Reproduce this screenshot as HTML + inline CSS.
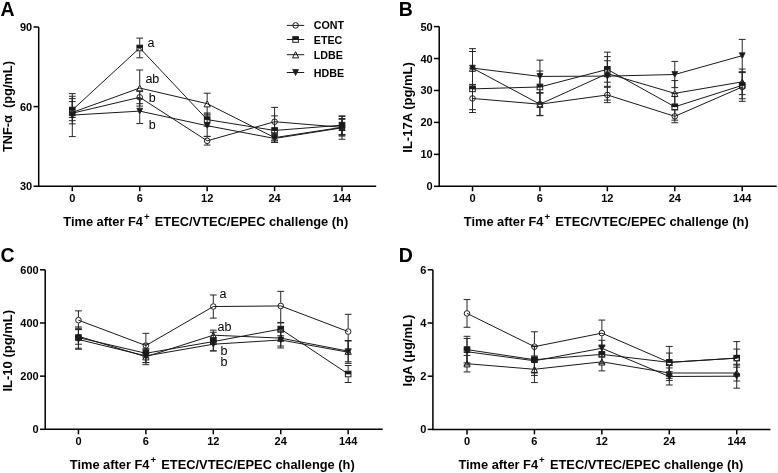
<!DOCTYPE html>
<html><head><meta charset="utf-8"><title>Cytokine time course</title>
<style>
html,body{margin:0;padding:0;background:#fff;}
body{width:778px;height:473px;overflow:hidden;}
svg{display:block;font-family:"Liberation Sans", sans-serif;filter:grayscale(1);}
text{fill:#000;}
</style></head><body>
<svg width="778" height="473" viewBox="0 0 778 473">
<rect width="778" height="473" fill="#fff"/>
<path d="M72.3 98.64V110.03M72.3 116.43V123.85M68.9 98.64H75.7M68.9 123.85H75.7" stroke="#262626" stroke-width="1.0" fill="none"/>
<path d="M139.73 90.95V94.11M139.73 100.51V103.68M136.33 90.95H143.13M136.33 103.68H143.13" stroke="#262626" stroke-width="1.0" fill="none"/>
<path d="M207.16 136.58V137.63M207.16 144.03V145.07M203.76 136.58H210.56M203.76 145.07H210.56" stroke="#262626" stroke-width="1.0" fill="none"/>
<path d="M274.59 107.4V118.52M274.59 124.92V136.05M271.19 107.4H277.99M271.19 136.05H277.99" stroke="#262626" stroke-width="1.0" fill="none"/>
<path d="M342.02 119.34V124.1M342.02 130.5V135.26M338.62 119.34H345.42M338.62 135.26H345.42" stroke="#262626" stroke-width="1.0" fill="none"/>
<path d="M72.3 96.25V106.85M72.3 113.25V120.66M68.9 96.25H75.7M68.9 120.66H75.7" stroke="#262626" stroke-width="1.0" fill="none"/>
<path d="M139.73 38.14V44.76M139.73 51.16V57.78M136.33 38.14H143.13M136.33 57.78H143.13" stroke="#262626" stroke-width="1.0" fill="none"/>
<path d="M207.16 112.97V116.4M207.16 122.8V126.23M203.76 112.97H210.56M203.76 126.23H210.56" stroke="#262626" stroke-width="1.0" fill="none"/>
<path d="M274.59 115.89V127.28M274.59 133.68V142.42M271.19 115.89H277.99M271.19 142.42H277.99" stroke="#262626" stroke-width="1.0" fill="none"/>
<path d="M342.02 115.89V121.97M342.02 128.37V134.46M338.62 115.89H345.42M338.62 134.46H345.42" stroke="#262626" stroke-width="1.0" fill="none"/>
<path d="M72.3 101.56V109.24M72.3 115.64V117.48M68.9 101.56H75.7M68.9 117.48H75.7" stroke="#262626" stroke-width="1.0" fill="none"/>
<path d="M139.73 69.98V84.83M139.73 91.23V106.07M136.33 69.98H143.13M136.33 106.07H143.13" stroke="#262626" stroke-width="1.0" fill="none"/>
<path d="M207.16 93.2V100.48M207.16 106.88V114.16M203.76 93.2H210.56M203.76 114.16H210.56" stroke="#262626" stroke-width="1.0" fill="none"/>
<path d="M274.59 132.87V134.44M274.59 140.84V142.42M271.19 132.87H277.99M271.19 142.42H277.99" stroke="#262626" stroke-width="1.0" fill="none"/>
<path d="M342.02 118.54V124.1M342.02 130.5V136.05M338.62 118.54H345.42M338.62 136.05H345.42" stroke="#262626" stroke-width="1.0" fill="none"/>
<path d="M72.3 93.6V111.89M72.3 118.29V136.58M68.9 93.6H75.7M68.9 136.58H75.7" stroke="#262626" stroke-width="1.0" fill="none"/>
<path d="M139.73 98.64V107.91M139.73 114.31V123.58M136.33 98.64H143.13M136.33 123.58H143.13" stroke="#262626" stroke-width="1.0" fill="none"/>
<path d="M207.16 115.09V122.5M207.16 128.9V136.32M203.76 115.09H210.56M203.76 136.32H210.56" stroke="#262626" stroke-width="1.0" fill="none"/>
<path d="M274.59 134.46V135.24M274.59 141.64V142.42M271.19 134.46H277.99M271.19 142.42H277.99" stroke="#262626" stroke-width="1.0" fill="none"/>
<path d="M342.02 116.42V124.63M342.02 131.03V139.24M338.62 116.42H345.42M338.62 139.24H345.42" stroke="#262626" stroke-width="1.0" fill="none"/>
<circle cx="72.3" cy="113.23" r="2.8" fill="none" stroke="#1a1a1a" stroke-width="1"/>
<circle cx="139.73" cy="97.31" r="2.8" fill="none" stroke="#1a1a1a" stroke-width="1"/>
<circle cx="207.16" cy="140.83" r="2.8" fill="none" stroke="#1a1a1a" stroke-width="1"/>
<circle cx="274.59" cy="121.72" r="2.8" fill="none" stroke="#1a1a1a" stroke-width="1"/>
<circle cx="342.02" cy="127.3" r="2.8" fill="none" stroke="#1a1a1a" stroke-width="1"/>
<rect x="69.5" y="107.25" width="5.6" height="5.6" fill="none" stroke="#1a1a1a" stroke-width="1"/>
<rect x="69.5" y="107.25" width="5.6" height="3.1" fill="#1a1a1a"/>
<rect x="136.93" y="45.16" width="5.6" height="5.6" fill="none" stroke="#1a1a1a" stroke-width="1"/>
<rect x="136.93" y="45.16" width="5.6" height="3.1" fill="#1a1a1a"/>
<rect x="204.36" y="116.8" width="5.6" height="5.6" fill="none" stroke="#1a1a1a" stroke-width="1"/>
<rect x="204.36" y="116.8" width="5.6" height="3.1" fill="#1a1a1a"/>
<rect x="271.79" y="127.68" width="5.6" height="5.6" fill="none" stroke="#1a1a1a" stroke-width="1"/>
<rect x="271.79" y="127.68" width="5.6" height="3.1" fill="#1a1a1a"/>
<rect x="339.22" y="122.37" width="5.6" height="5.6" fill="none" stroke="#1a1a1a" stroke-width="1"/>
<rect x="339.22" y="122.37" width="5.6" height="3.1" fill="#1a1a1a"/>
<path d="M72.3 109.44L75.4 115.64L69.2 115.64Z" fill="none" stroke="#1a1a1a" stroke-width="1" stroke-linejoin="miter"/>
<path d="M139.73 85.03L142.83 91.23L136.63 91.23Z" fill="none" stroke="#1a1a1a" stroke-width="1" stroke-linejoin="miter"/>
<path d="M207.16 100.68L210.26 106.88L204.06 106.88Z" fill="none" stroke="#1a1a1a" stroke-width="1" stroke-linejoin="miter"/>
<path d="M274.59 134.64L277.69 140.84L271.49 140.84Z" fill="none" stroke="#1a1a1a" stroke-width="1" stroke-linejoin="miter"/>
<path d="M342.02 124.3L345.12 130.5L338.92 130.5Z" fill="none" stroke="#1a1a1a" stroke-width="1" stroke-linejoin="miter"/>
<path d="M69.4 112.19L75.2 112.19L72.3 118.09Z" fill="#1a1a1a" stroke="#1a1a1a" stroke-width="0.8"/>
<path d="M136.83 108.21L142.63 108.21L139.73 114.11Z" fill="#1a1a1a" stroke="#1a1a1a" stroke-width="0.8"/>
<path d="M204.26 122.8L210.06 122.8L207.16 128.7Z" fill="#1a1a1a" stroke="#1a1a1a" stroke-width="0.8"/>
<path d="M271.69 135.54L277.49 135.54L274.59 141.44Z" fill="#1a1a1a" stroke="#1a1a1a" stroke-width="0.8"/>
<path d="M339.12 124.93L344.92 124.93L342.02 130.83Z" fill="#1a1a1a" stroke="#1a1a1a" stroke-width="0.8"/>
<polyline points="72.3,113.23 139.73,97.31 207.16,140.83 274.59,121.72 342.02,127.3" fill="none" stroke="#1a1a1a" stroke-width="1.0"/>
<polyline points="72.3,110.05 139.73,47.96 207.16,119.6 274.59,130.48 342.02,125.17" fill="none" stroke="#1a1a1a" stroke-width="1.0"/>
<polyline points="72.3,112.44 139.73,88.03 207.16,103.68 274.59,137.64 342.02,127.3" fill="none" stroke="#1a1a1a" stroke-width="1.0"/>
<polyline points="72.3,115.09 139.73,111.11 207.16,125.7 274.59,138.44 342.02,127.83" fill="none" stroke="#1a1a1a" stroke-width="1.0"/>
<path d="M38.7 27V186.2H376.2" stroke="#000" stroke-width="1.5" fill="none" stroke-linecap="butt"/>
<path d="M33.5 186.2H38.7" stroke="#000" stroke-width="1.5"/>
<text x="32.2" y="190.2" font-size="11" font-weight="bold" text-anchor="end">30</text>
<path d="M33.5 106.6H38.7" stroke="#000" stroke-width="1.5"/>
<text x="32.2" y="110.6" font-size="11" font-weight="bold" text-anchor="end">60</text>
<path d="M33.5 27H38.7" stroke="#000" stroke-width="1.5"/>
<text x="32.2" y="31" font-size="11" font-weight="bold" text-anchor="end">90</text>
<path d="M72.3 186.2V191.2" stroke="#000" stroke-width="1.5"/>
<text x="72.3" y="202.2" font-size="11" font-weight="bold" text-anchor="middle">0</text>
<path d="M139.73 186.2V191.2" stroke="#000" stroke-width="1.5"/>
<text x="139.73" y="202.2" font-size="11" font-weight="bold" text-anchor="middle">6</text>
<path d="M207.16 186.2V191.2" stroke="#000" stroke-width="1.5"/>
<text x="207.16" y="202.2" font-size="11" font-weight="bold" text-anchor="middle">12</text>
<path d="M274.59 186.2V191.2" stroke="#000" stroke-width="1.5"/>
<text x="274.59" y="202.2" font-size="11" font-weight="bold" text-anchor="middle">24</text>
<path d="M342.02 186.2V191.2" stroke="#000" stroke-width="1.5"/>
<text x="342.02" y="202.2" font-size="11" font-weight="bold" text-anchor="middle">144</text>
<text x="63.3" y="225.8" font-size="12.85" font-weight="bold">Time after F4<tspan dx="1.0" dy="-6" font-size="9.6">+</tspan><tspan dx="1.6" dy="6"> ETEC/VTEC/EPEC challenge (h)</tspan></text>
<text transform="translate(12.1 106.6) rotate(-90)" font-size="12.8" font-weight="bold" text-anchor="middle" xml:space="preserve">TNF-α  (pg/mL)</text>
<text x="0.5" y="15.9" font-size="19.5" font-weight="bold" text-anchor="start">A</text>
<text x="147.6" y="46.8" font-size="12.5" font-weight="normal" text-anchor="start">a</text>
<text x="145.4" y="83.4" font-size="12.5" font-weight="normal" text-anchor="start">ab</text>
<text x="148.7" y="101.6" font-size="12.5" font-weight="normal" text-anchor="start">b</text>
<text x="148.7" y="128.6" font-size="12.5" font-weight="normal" text-anchor="start">b</text>
<path d="M472.5 84.41V95.26M472.5 101.66V112.52M469.1 84.41H475.9M469.1 112.52H475.9" stroke="#262626" stroke-width="1.0" fill="none"/>
<path d="M539.93 93.04V101.01M539.93 107.41V115.39M536.53 93.04H543.33M536.53 115.39H543.33" stroke="#262626" stroke-width="1.0" fill="none"/>
<path d="M607.36 87.29V91.75M607.36 98.15V102.62M603.96 87.29H610.76M603.96 102.62H610.76" stroke="#262626" stroke-width="1.0" fill="none"/>
<path d="M674.79 109.96V113.15M674.79 119.55V122.74M671.39 109.96H678.19M671.39 122.74H678.19" stroke="#262626" stroke-width="1.0" fill="none"/>
<path d="M742.22 72.59V83.77M742.22 90.17V101.34M738.82 72.59H745.62M738.82 101.34H745.62" stroke="#262626" stroke-width="1.0" fill="none"/>
<path d="M472.5 68.12V85.68M472.5 92.08V109.64M469.1 68.12H475.9M469.1 109.64H475.9" stroke="#262626" stroke-width="1.0" fill="none"/>
<path d="M539.93 71V83.77M539.93 90.17V102.94M536.53 71H543.33M536.53 102.94H543.33" stroke="#262626" stroke-width="1.0" fill="none"/>
<path d="M607.36 56.62V66.2M607.36 72.6V82.18M603.96 56.62H610.76M603.96 82.18H610.76" stroke="#262626" stroke-width="1.0" fill="none"/>
<path d="M674.79 93.35V103.57M674.79 109.97V120.18M671.39 93.35H678.19M671.39 120.18H678.19" stroke="#262626" stroke-width="1.0" fill="none"/>
<path d="M742.22 71.95V82.17M742.22 88.57V98.78M738.82 71.95H745.62M738.82 98.78H745.62" stroke="#262626" stroke-width="1.0" fill="none"/>
<path d="M472.5 51.51V64.92M472.5 71.32V84.73M469.1 51.51H475.9M469.1 84.73H475.9" stroke="#262626" stroke-width="1.0" fill="none"/>
<path d="M539.93 92.72V101.01M539.93 107.41V115.71M536.53 92.72H543.33M536.53 115.71H543.33" stroke="#262626" stroke-width="1.0" fill="none"/>
<path d="M607.36 60.78V70.35M607.36 76.75V86.33M603.96 60.78H610.76M603.96 86.33H610.76" stroke="#262626" stroke-width="1.0" fill="none"/>
<path d="M674.79 80.58V90.15M674.79 96.55V106.13M671.39 80.58H678.19M671.39 106.13H678.19" stroke="#262626" stroke-width="1.0" fill="none"/>
<path d="M742.22 69.08V78.66M742.22 85.06V94.63M738.82 69.08H745.62M738.82 94.63H745.62" stroke="#262626" stroke-width="1.0" fill="none"/>
<path d="M472.5 48.64V64.92M472.5 71.32V87.61M469.1 48.64H475.9M469.1 87.61H475.9" stroke="#262626" stroke-width="1.0" fill="none"/>
<path d="M539.93 60.14V73.23M539.93 79.63V92.72M536.53 60.14H543.33M536.53 92.72H543.33" stroke="#262626" stroke-width="1.0" fill="none"/>
<path d="M607.36 52.15V72.91M607.36 79.31V100.06M603.96 52.15H610.76M603.96 100.06H610.76" stroke="#262626" stroke-width="1.0" fill="none"/>
<path d="M674.79 61.41V71.31M674.79 77.71V87.61M671.39 61.41H678.19M671.39 87.61H678.19" stroke="#262626" stroke-width="1.0" fill="none"/>
<path d="M742.22 39.38V52.47M742.22 58.87V71.95M738.82 39.38H745.62M738.82 71.95H745.62" stroke="#262626" stroke-width="1.0" fill="none"/>
<circle cx="472.5" cy="98.46" r="2.8" fill="none" stroke="#1a1a1a" stroke-width="1"/>
<circle cx="539.93" cy="104.21" r="2.8" fill="none" stroke="#1a1a1a" stroke-width="1"/>
<circle cx="607.36" cy="94.95" r="2.8" fill="none" stroke="#1a1a1a" stroke-width="1"/>
<circle cx="674.79" cy="116.35" r="2.8" fill="none" stroke="#1a1a1a" stroke-width="1"/>
<circle cx="742.22" cy="86.97" r="2.8" fill="none" stroke="#1a1a1a" stroke-width="1"/>
<rect x="469.7" y="86.08" width="5.6" height="5.6" fill="none" stroke="#1a1a1a" stroke-width="1"/>
<rect x="469.7" y="86.08" width="5.6" height="3.1" fill="#1a1a1a"/>
<rect x="537.13" y="84.17" width="5.6" height="5.6" fill="none" stroke="#1a1a1a" stroke-width="1"/>
<rect x="537.13" y="84.17" width="5.6" height="3.1" fill="#1a1a1a"/>
<rect x="604.56" y="66.6" width="5.6" height="5.6" fill="none" stroke="#1a1a1a" stroke-width="1"/>
<rect x="604.56" y="66.6" width="5.6" height="3.1" fill="#1a1a1a"/>
<rect x="671.99" y="103.97" width="5.6" height="5.6" fill="none" stroke="#1a1a1a" stroke-width="1"/>
<rect x="671.99" y="103.97" width="5.6" height="3.1" fill="#1a1a1a"/>
<rect x="739.42" y="82.57" width="5.6" height="5.6" fill="none" stroke="#1a1a1a" stroke-width="1"/>
<rect x="739.42" y="82.57" width="5.6" height="3.1" fill="#1a1a1a"/>
<path d="M472.5 65.12L475.6 71.32L469.4 71.32Z" fill="none" stroke="#1a1a1a" stroke-width="1" stroke-linejoin="miter"/>
<path d="M539.93 101.21L543.03 107.41L536.83 107.41Z" fill="none" stroke="#1a1a1a" stroke-width="1" stroke-linejoin="miter"/>
<path d="M607.36 70.55L610.46 76.75L604.26 76.75Z" fill="none" stroke="#1a1a1a" stroke-width="1" stroke-linejoin="miter"/>
<path d="M674.79 90.35L677.89 96.55L671.69 96.55Z" fill="none" stroke="#1a1a1a" stroke-width="1" stroke-linejoin="miter"/>
<path d="M742.22 78.86L745.32 85.06L739.12 85.06Z" fill="none" stroke="#1a1a1a" stroke-width="1" stroke-linejoin="miter"/>
<path d="M469.6 65.22L475.4 65.22L472.5 71.12Z" fill="#1a1a1a" stroke="#1a1a1a" stroke-width="0.8"/>
<path d="M537.03 73.53L542.83 73.53L539.93 79.43Z" fill="#1a1a1a" stroke="#1a1a1a" stroke-width="0.8"/>
<path d="M604.46 73.21L610.26 73.21L607.36 79.11Z" fill="#1a1a1a" stroke="#1a1a1a" stroke-width="0.8"/>
<path d="M671.89 71.61L677.69 71.61L674.79 77.51Z" fill="#1a1a1a" stroke="#1a1a1a" stroke-width="0.8"/>
<path d="M739.32 52.77L745.12 52.77L742.22 58.67Z" fill="#1a1a1a" stroke="#1a1a1a" stroke-width="0.8"/>
<polyline points="472.5,98.46 539.93,104.21 607.36,94.95 674.79,116.35 742.22,86.97" fill="none" stroke="#1a1a1a" stroke-width="1.0"/>
<polyline points="472.5,88.88 539.93,86.97 607.36,69.4 674.79,106.77 742.22,85.37" fill="none" stroke="#1a1a1a" stroke-width="1.0"/>
<polyline points="472.5,68.12 539.93,104.21 607.36,73.55 674.79,93.35 742.22,81.86" fill="none" stroke="#1a1a1a" stroke-width="1.0"/>
<polyline points="472.5,68.12 539.93,76.43 607.36,76.11 674.79,74.51 742.22,55.67" fill="none" stroke="#1a1a1a" stroke-width="1.0"/>
<path d="M439.2 26.6V186.3H776.7" stroke="#000" stroke-width="1.5" fill="none" stroke-linecap="butt"/>
<path d="M434 186.3H439.2" stroke="#000" stroke-width="1.5"/>
<text x="432.7" y="190.3" font-size="11" font-weight="bold" text-anchor="end">0</text>
<path d="M434 154.36H439.2" stroke="#000" stroke-width="1.5"/>
<text x="432.7" y="158.36" font-size="11" font-weight="bold" text-anchor="end">10</text>
<path d="M434 122.42H439.2" stroke="#000" stroke-width="1.5"/>
<text x="432.7" y="126.42" font-size="11" font-weight="bold" text-anchor="end">20</text>
<path d="M434 90.48H439.2" stroke="#000" stroke-width="1.5"/>
<text x="432.7" y="94.48" font-size="11" font-weight="bold" text-anchor="end">30</text>
<path d="M434 58.54H439.2" stroke="#000" stroke-width="1.5"/>
<text x="432.7" y="62.54" font-size="11" font-weight="bold" text-anchor="end">40</text>
<path d="M434 26.6H439.2" stroke="#000" stroke-width="1.5"/>
<text x="432.7" y="30.6" font-size="11" font-weight="bold" text-anchor="end">50</text>
<path d="M472.5 186.3V191.3" stroke="#000" stroke-width="1.5"/>
<text x="472.5" y="202.3" font-size="11" font-weight="bold" text-anchor="middle">0</text>
<path d="M539.93 186.3V191.3" stroke="#000" stroke-width="1.5"/>
<text x="539.93" y="202.3" font-size="11" font-weight="bold" text-anchor="middle">6</text>
<path d="M607.36 186.3V191.3" stroke="#000" stroke-width="1.5"/>
<text x="607.36" y="202.3" font-size="11" font-weight="bold" text-anchor="middle">12</text>
<path d="M674.79 186.3V191.3" stroke="#000" stroke-width="1.5"/>
<text x="674.79" y="202.3" font-size="11" font-weight="bold" text-anchor="middle">24</text>
<path d="M742.22 186.3V191.3" stroke="#000" stroke-width="1.5"/>
<text x="742.22" y="202.3" font-size="11" font-weight="bold" text-anchor="middle">144</text>
<text x="463.8" y="225.9" font-size="12.85" font-weight="bold">Time after F4<tspan dx="1.0" dy="-6" font-size="9.6">+</tspan><tspan dx="1.6" dy="6"> ETEC/VTEC/EPEC challenge (h)</tspan></text>
<text transform="translate(412.3 107.45) rotate(-90)" font-size="13" font-weight="bold" text-anchor="middle" xml:space="preserve">IL-17A (pg/mL)</text>
<text x="398.8" y="16" font-size="19.5" font-weight="bold" text-anchor="start">B</text>
<path d="M78.45 310.87V316.98M78.45 323.38V329.48M75.05 310.87H81.85M75.05 329.48H81.85" stroke="#262626" stroke-width="1.0" fill="none"/>
<path d="M145.88 333.33V342.36M145.88 348.76V357.79M142.48 333.33H149.28M142.48 357.79H149.28" stroke="#262626" stroke-width="1.0" fill="none"/>
<path d="M213.31 294.97V303.34M213.31 309.74V318.1M209.91 294.97H216.71M209.91 318.1H216.71" stroke="#262626" stroke-width="1.0" fill="none"/>
<path d="M280.74 291.33V302.75M280.74 309.15V322.97M277.34 291.33H284.14M277.34 322.97H284.14" stroke="#262626" stroke-width="1.0" fill="none"/>
<path d="M348.17 314.3V328.38M348.17 334.78V348.86M344.77 314.3H351.57M344.77 348.86H351.57" stroke="#262626" stroke-width="1.0" fill="none"/>
<path d="M78.45 326.95V334.39M78.45 340.79V348.22M75.05 326.95H81.85M75.05 348.22H81.85" stroke="#262626" stroke-width="1.0" fill="none"/>
<path d="M145.88 343.97V350.07M145.88 356.47V362.58M142.48 343.97H149.28M142.48 362.58H149.28" stroke="#262626" stroke-width="1.0" fill="none"/>
<path d="M213.31 332.27V338.38M213.31 344.78V350.88M209.91 332.27H216.71M209.91 350.88H216.71" stroke="#262626" stroke-width="1.0" fill="none"/>
<path d="M280.74 322.44V325.88M280.74 332.28V335.73M277.34 322.44H284.14M277.34 335.73H284.14" stroke="#262626" stroke-width="1.0" fill="none"/>
<path d="M348.17 365.5V370.81M348.17 377.21V382.51M344.77 365.5H351.57M344.77 382.51H351.57" stroke="#262626" stroke-width="1.0" fill="none"/>
<path d="M78.45 328.28V333.06M78.45 339.46V344.23M75.05 328.28H81.85M75.05 344.23H81.85" stroke="#262626" stroke-width="1.0" fill="none"/>
<path d="M145.88 348.75V353.53M145.88 359.93V364.7M142.48 348.75H149.28M142.48 364.7H149.28" stroke="#262626" stroke-width="1.0" fill="none"/>
<path d="M213.31 330.14V332M213.31 338.39V340.25M209.91 330.14H216.71M209.91 340.25H216.71" stroke="#262626" stroke-width="1.0" fill="none"/>
<path d="M280.74 330.14V334.92M280.74 341.32V346.09M277.34 330.14H284.14M277.34 346.09H284.14" stroke="#262626" stroke-width="1.0" fill="none"/>
<path d="M348.17 340.51V347.94M348.17 354.34V361.78M344.77 340.51H351.57M344.77 361.78H351.57" stroke="#262626" stroke-width="1.0" fill="none"/>
<path d="M78.45 329.61V336.25M78.45 342.65V349.28M75.05 329.61H81.85M75.05 349.28H81.85" stroke="#262626" stroke-width="1.0" fill="none"/>
<path d="M145.88 349.28V352.73M145.88 359.13V362.58M142.48 349.28H149.28M142.48 362.58H149.28" stroke="#262626" stroke-width="1.0" fill="none"/>
<path d="M213.31 337.59V341.03M213.31 347.43V350.88M209.91 337.59H216.71M209.91 350.88H216.71" stroke="#262626" stroke-width="1.0" fill="none"/>
<path d="M280.74 332V336.78M280.74 343.18V347.96M277.34 332H284.14M277.34 347.96H284.14" stroke="#262626" stroke-width="1.0" fill="none"/>
<path d="M348.17 341.04V349.01M348.17 355.41V363.37M344.77 341.04H351.57M344.77 363.37H351.57" stroke="#262626" stroke-width="1.0" fill="none"/>
<circle cx="78.45" cy="320.18" r="2.8" fill="none" stroke="#1a1a1a" stroke-width="1"/>
<circle cx="145.88" cy="345.56" r="2.8" fill="none" stroke="#1a1a1a" stroke-width="1"/>
<circle cx="213.31" cy="306.54" r="2.8" fill="none" stroke="#1a1a1a" stroke-width="1"/>
<circle cx="280.74" cy="305.95" r="2.8" fill="none" stroke="#1a1a1a" stroke-width="1"/>
<circle cx="348.17" cy="331.58" r="2.8" fill="none" stroke="#1a1a1a" stroke-width="1"/>
<rect x="75.65" y="334.79" width="5.6" height="5.6" fill="none" stroke="#1a1a1a" stroke-width="1"/>
<rect x="75.65" y="334.79" width="5.6" height="3.1" fill="#1a1a1a"/>
<rect x="143.08" y="350.47" width="5.6" height="5.6" fill="none" stroke="#1a1a1a" stroke-width="1"/>
<rect x="143.08" y="350.47" width="5.6" height="3.1" fill="#1a1a1a"/>
<rect x="210.51" y="338.78" width="5.6" height="5.6" fill="none" stroke="#1a1a1a" stroke-width="1"/>
<rect x="210.51" y="338.78" width="5.6" height="3.1" fill="#1a1a1a"/>
<rect x="277.94" y="326.28" width="5.6" height="5.6" fill="none" stroke="#1a1a1a" stroke-width="1"/>
<rect x="277.94" y="326.28" width="5.6" height="3.1" fill="#1a1a1a"/>
<rect x="345.37" y="371.21" width="5.6" height="5.6" fill="none" stroke="#1a1a1a" stroke-width="1"/>
<rect x="345.37" y="371.21" width="5.6" height="3.1" fill="#1a1a1a"/>
<path d="M78.45 333.26L81.55 339.46L75.35 339.46Z" fill="none" stroke="#1a1a1a" stroke-width="1" stroke-linejoin="miter"/>
<path d="M145.88 353.73L148.98 359.93L142.78 359.93Z" fill="none" stroke="#1a1a1a" stroke-width="1" stroke-linejoin="miter"/>
<path d="M213.31 332.19L216.41 338.39L210.21 338.39Z" fill="none" stroke="#1a1a1a" stroke-width="1" stroke-linejoin="miter"/>
<path d="M280.74 335.12L283.84 341.32L277.64 341.32Z" fill="none" stroke="#1a1a1a" stroke-width="1" stroke-linejoin="miter"/>
<path d="M348.17 348.14L351.27 354.34L345.07 354.34Z" fill="none" stroke="#1a1a1a" stroke-width="1" stroke-linejoin="miter"/>
<path d="M75.55 336.55L81.35 336.55L78.45 342.45Z" fill="#1a1a1a" stroke="#1a1a1a" stroke-width="0.8"/>
<path d="M142.98 353.03L148.78 353.03L145.88 358.93Z" fill="#1a1a1a" stroke="#1a1a1a" stroke-width="0.8"/>
<path d="M210.41 341.33L216.21 341.33L213.31 347.23Z" fill="#1a1a1a" stroke="#1a1a1a" stroke-width="0.8"/>
<path d="M277.84 337.08L283.64 337.08L280.74 342.98Z" fill="#1a1a1a" stroke="#1a1a1a" stroke-width="0.8"/>
<path d="M345.27 349.31L351.07 349.31L348.17 355.21Z" fill="#1a1a1a" stroke="#1a1a1a" stroke-width="0.8"/>
<polyline points="78.45,320.18 145.88,345.56 213.31,306.54 280.74,305.95 348.17,331.58" fill="none" stroke="#1a1a1a" stroke-width="1.0"/>
<polyline points="78.45,337.59 145.88,353.27 213.31,341.58 280.74,329.08 348.17,374.01" fill="none" stroke="#1a1a1a" stroke-width="1.0"/>
<polyline points="78.45,336.26 145.88,356.73 213.31,335.19 280.74,338.12 348.17,351.14" fill="none" stroke="#1a1a1a" stroke-width="1.0"/>
<polyline points="78.45,339.45 145.88,355.93 213.31,344.23 280.74,339.98 348.17,352.21" fill="none" stroke="#1a1a1a" stroke-width="1.0"/>
<path d="M45.2 269.8V429.3H382.7" stroke="#000" stroke-width="1.5" fill="none" stroke-linecap="butt"/>
<path d="M40 429.3H45.2" stroke="#000" stroke-width="1.5"/>
<text x="38.7" y="433.3" font-size="11" font-weight="bold" text-anchor="end">0</text>
<path d="M40 376.13H45.2" stroke="#000" stroke-width="1.5"/>
<text x="38.7" y="380.13" font-size="11" font-weight="bold" text-anchor="end">200</text>
<path d="M40 322.97H45.2" stroke="#000" stroke-width="1.5"/>
<text x="38.7" y="326.97" font-size="11" font-weight="bold" text-anchor="end">400</text>
<path d="M40 269.8H45.2" stroke="#000" stroke-width="1.5"/>
<text x="38.7" y="273.8" font-size="11" font-weight="bold" text-anchor="end">600</text>
<path d="M78.45 429.3V434.3" stroke="#000" stroke-width="1.5"/>
<text x="78.45" y="445.3" font-size="11" font-weight="bold" text-anchor="middle">0</text>
<path d="M145.88 429.3V434.3" stroke="#000" stroke-width="1.5"/>
<text x="145.88" y="445.3" font-size="11" font-weight="bold" text-anchor="middle">6</text>
<path d="M213.31 429.3V434.3" stroke="#000" stroke-width="1.5"/>
<text x="213.31" y="445.3" font-size="11" font-weight="bold" text-anchor="middle">12</text>
<path d="M280.74 429.3V434.3" stroke="#000" stroke-width="1.5"/>
<text x="280.74" y="445.3" font-size="11" font-weight="bold" text-anchor="middle">24</text>
<path d="M348.17 429.3V434.3" stroke="#000" stroke-width="1.5"/>
<text x="348.17" y="445.3" font-size="11" font-weight="bold" text-anchor="middle">144</text>
<text x="69.8" y="468.9" font-size="12.85" font-weight="bold">Time after F4<tspan dx="1.0" dy="-6" font-size="9.6">+</tspan><tspan dx="1.6" dy="6"> ETEC/VTEC/EPEC challenge (h)</tspan></text>
<text transform="translate(12.1 350.75) rotate(-90)" font-size="13" font-weight="bold" text-anchor="middle" xml:space="preserve">IL-10 (pg/mL)</text>
<text x="0.5" y="261.7" font-size="19.5" font-weight="bold" text-anchor="start">C</text>
<text x="219.6" y="297.9" font-size="12.5" font-weight="normal" text-anchor="start">a</text>
<text x="217.6" y="330.7" font-size="12.5" font-weight="normal" text-anchor="start">ab</text>
<text x="220.6" y="354.7" font-size="12.5" font-weight="normal" text-anchor="start">b</text>
<text x="220.6" y="366.2" font-size="12.5" font-weight="normal" text-anchor="start">b</text>
<path d="M467 299.59V310.22M467 316.62V327.26M463.6 299.59H470.4M463.6 327.26H470.4" stroke="#262626" stroke-width="1.0" fill="none"/>
<path d="M534.43 331.78V343.47M534.43 349.87V361.57M531.03 331.78H537.83M531.03 361.57H537.83" stroke="#262626" stroke-width="1.0" fill="none"/>
<path d="M601.86 320.07V329.91M601.86 336.31V346.14M598.46 320.07H605.26M598.46 346.14H605.26" stroke="#262626" stroke-width="1.0" fill="none"/>
<path d="M669.29 346.41V359.17M669.29 365.57V378.33M665.89 346.41H672.69M665.89 378.33H672.69" stroke="#262626" stroke-width="1.0" fill="none"/>
<path d="M736.72 341.62V354.91M736.72 361.31V374.6M733.32 341.62H740.12M733.32 374.6H740.12" stroke="#262626" stroke-width="1.0" fill="none"/>
<path d="M467 336.3V346.4M467 352.8V362.9M463.6 336.3H470.4M463.6 362.9H470.4" stroke="#262626" stroke-width="1.0" fill="none"/>
<path d="M534.43 346.41V356.51M534.43 362.91V373.01M531.03 346.41H537.83M531.03 373.01H537.83" stroke="#262626" stroke-width="1.0" fill="none"/>
<path d="M601.86 345.08V351.19M601.86 357.59V363.7M598.46 345.08H605.26M598.46 363.7H605.26" stroke="#262626" stroke-width="1.0" fill="none"/>
<path d="M669.29 353.06V359.17M669.29 365.57V371.68M665.89 353.06H672.69M665.89 371.68H672.69" stroke="#262626" stroke-width="1.0" fill="none"/>
<path d="M736.72 349.07V354.91M736.72 361.31V367.16M733.32 349.07H740.12M733.32 367.16H740.12" stroke="#262626" stroke-width="1.0" fill="none"/>
<path d="M467 355.45V360.5M467 366.9V371.94M463.6 355.45H470.4M463.6 371.94H470.4" stroke="#262626" stroke-width="1.0" fill="none"/>
<path d="M534.43 355.98V366.08M534.43 372.48V382.58M531.03 355.98H537.83M531.03 382.58H537.83" stroke="#262626" stroke-width="1.0" fill="none"/>
<path d="M601.86 352.79V358.64M601.86 365.04V370.88M598.46 352.79H605.26M598.46 370.88H605.26" stroke="#262626" stroke-width="1.0" fill="none"/>
<path d="M669.29 365.56V369.81M669.29 376.21V380.46M665.89 365.56H672.69M665.89 380.46H672.69" stroke="#262626" stroke-width="1.0" fill="none"/>
<path d="M736.72 365.03V369.81M736.72 376.21V380.99M733.32 365.03H740.12M733.32 380.99H740.12" stroke="#262626" stroke-width="1.0" fill="none"/>
<path d="M467 338.43V348.53M467 354.93V365.03M463.6 338.43H470.4M463.6 365.03H470.4" stroke="#262626" stroke-width="1.0" fill="none"/>
<path d="M534.43 346.14V357.57M534.43 363.97V375.4M531.03 346.14H537.83M531.03 375.4H537.83" stroke="#262626" stroke-width="1.0" fill="none"/>
<path d="M601.86 340.29V345.07M601.86 351.47V356.25M598.46 340.29H605.26M598.46 356.25H605.26" stroke="#262626" stroke-width="1.0" fill="none"/>
<path d="M669.29 367.95V373.27M669.29 379.67V384.98M665.89 367.95H672.69M665.89 384.98H672.69" stroke="#262626" stroke-width="1.0" fill="none"/>
<path d="M736.72 364.23V373M736.72 379.4V388.17M733.32 364.23H740.12M733.32 388.17H740.12" stroke="#262626" stroke-width="1.0" fill="none"/>
<circle cx="467" cy="313.42" r="2.8" fill="none" stroke="#1a1a1a" stroke-width="1"/>
<circle cx="534.43" cy="346.67" r="2.8" fill="none" stroke="#1a1a1a" stroke-width="1"/>
<circle cx="601.86" cy="333.11" r="2.8" fill="none" stroke="#1a1a1a" stroke-width="1"/>
<circle cx="669.29" cy="362.37" r="2.8" fill="none" stroke="#1a1a1a" stroke-width="1"/>
<circle cx="736.72" cy="358.11" r="2.8" fill="none" stroke="#1a1a1a" stroke-width="1"/>
<rect x="464.2" y="346.8" width="5.6" height="5.6" fill="none" stroke="#1a1a1a" stroke-width="1"/>
<rect x="464.2" y="346.8" width="5.6" height="3.1" fill="#1a1a1a"/>
<rect x="531.63" y="356.91" width="5.6" height="5.6" fill="none" stroke="#1a1a1a" stroke-width="1"/>
<rect x="531.63" y="356.91" width="5.6" height="3.1" fill="#1a1a1a"/>
<rect x="599.06" y="351.59" width="5.6" height="5.6" fill="none" stroke="#1a1a1a" stroke-width="1"/>
<rect x="599.06" y="351.59" width="5.6" height="3.1" fill="#1a1a1a"/>
<rect x="666.49" y="359.57" width="5.6" height="5.6" fill="none" stroke="#1a1a1a" stroke-width="1"/>
<rect x="666.49" y="359.57" width="5.6" height="3.1" fill="#1a1a1a"/>
<rect x="733.92" y="355.31" width="5.6" height="5.6" fill="none" stroke="#1a1a1a" stroke-width="1"/>
<rect x="733.92" y="355.31" width="5.6" height="3.1" fill="#1a1a1a"/>
<path d="M467 360.7L470.1 366.9L463.9 366.9Z" fill="none" stroke="#1a1a1a" stroke-width="1" stroke-linejoin="miter"/>
<path d="M534.43 366.28L537.53 372.48L531.33 372.48Z" fill="none" stroke="#1a1a1a" stroke-width="1" stroke-linejoin="miter"/>
<path d="M601.86 358.84L604.96 365.04L598.76 365.04Z" fill="none" stroke="#1a1a1a" stroke-width="1" stroke-linejoin="miter"/>
<path d="M669.29 370.01L672.39 376.21L666.19 376.21Z" fill="none" stroke="#1a1a1a" stroke-width="1" stroke-linejoin="miter"/>
<path d="M736.72 370.01L739.82 376.21L733.62 376.21Z" fill="none" stroke="#1a1a1a" stroke-width="1" stroke-linejoin="miter"/>
<path d="M464.1 348.83L469.9 348.83L467 354.73Z" fill="#1a1a1a" stroke="#1a1a1a" stroke-width="0.8"/>
<path d="M531.53 357.87L537.33 357.87L534.43 363.77Z" fill="#1a1a1a" stroke="#1a1a1a" stroke-width="0.8"/>
<path d="M598.96 345.37L604.76 345.37L601.86 351.27Z" fill="#1a1a1a" stroke="#1a1a1a" stroke-width="0.8"/>
<path d="M666.39 373.57L672.19 373.57L669.29 379.47Z" fill="#1a1a1a" stroke="#1a1a1a" stroke-width="0.8"/>
<path d="M733.82 373.3L739.62 373.3L736.72 379.2Z" fill="#1a1a1a" stroke="#1a1a1a" stroke-width="0.8"/>
<polyline points="467,313.42 534.43,346.67 601.86,333.11 669.29,362.37 736.72,358.11" fill="none" stroke="#1a1a1a" stroke-width="1.0"/>
<polyline points="467,349.6 534.43,359.71 601.86,354.39 669.29,362.37 736.72,358.11" fill="none" stroke="#1a1a1a" stroke-width="1.0"/>
<polyline points="467,363.7 534.43,369.28 601.86,361.84 669.29,373.01 736.72,373.01" fill="none" stroke="#1a1a1a" stroke-width="1.0"/>
<polyline points="467,351.73 534.43,360.77 601.86,348.27 669.29,376.47 736.72,376.2" fill="none" stroke="#1a1a1a" stroke-width="1.0"/>
<path d="M432.9 269.8V429.4H770.4" stroke="#000" stroke-width="1.5" fill="none" stroke-linecap="butt"/>
<path d="M427.7 429.4H432.9" stroke="#000" stroke-width="1.5"/>
<text x="426.4" y="433.4" font-size="11" font-weight="bold" text-anchor="end">0</text>
<path d="M427.7 376.2H432.9" stroke="#000" stroke-width="1.5"/>
<text x="426.4" y="380.2" font-size="11" font-weight="bold" text-anchor="end">2</text>
<path d="M427.7 323H432.9" stroke="#000" stroke-width="1.5"/>
<text x="426.4" y="327" font-size="11" font-weight="bold" text-anchor="end">4</text>
<path d="M427.7 269.8H432.9" stroke="#000" stroke-width="1.5"/>
<text x="426.4" y="273.8" font-size="11" font-weight="bold" text-anchor="end">6</text>
<path d="M467 429.4V434.4" stroke="#000" stroke-width="1.5"/>
<text x="467" y="445.4" font-size="11" font-weight="bold" text-anchor="middle">0</text>
<path d="M534.43 429.4V434.4" stroke="#000" stroke-width="1.5"/>
<text x="534.43" y="445.4" font-size="11" font-weight="bold" text-anchor="middle">6</text>
<path d="M601.86 429.4V434.4" stroke="#000" stroke-width="1.5"/>
<text x="601.86" y="445.4" font-size="11" font-weight="bold" text-anchor="middle">12</text>
<path d="M669.29 429.4V434.4" stroke="#000" stroke-width="1.5"/>
<text x="669.29" y="445.4" font-size="11" font-weight="bold" text-anchor="middle">24</text>
<path d="M736.72 429.4V434.4" stroke="#000" stroke-width="1.5"/>
<text x="736.72" y="445.4" font-size="11" font-weight="bold" text-anchor="middle">144</text>
<text x="458.4" y="469" font-size="12.85" font-weight="bold">Time after F4<tspan dx="1.0" dy="-6" font-size="9.6">+</tspan><tspan dx="1.6" dy="6"> ETEC/VTEC/EPEC challenge (h)</tspan></text>
<text transform="translate(412.3 350.6) rotate(-90)" font-size="13" font-weight="bold" text-anchor="middle" xml:space="preserve">IgA (μg/mL)</text>
<text x="398.8" y="262.2" font-size="19.5" font-weight="bold" text-anchor="start">D</text>
<circle cx="295.6" cy="25.4" r="2.8" fill="none" stroke="#1a1a1a" stroke-width="1"/>
<path d="M286.8 25.4H304.2" stroke="#1a1a1a" stroke-width="1"/>
<text x="313.8" y="29.3" font-size="10.7" font-weight="bold" text-anchor="start">CONT</text>
<rect x="292.8" y="36.7" width="5.6" height="5.6" fill="none" stroke="#1a1a1a" stroke-width="1"/>
<rect x="292.8" y="36.7" width="5.6" height="3.1" fill="#1a1a1a"/>
<path d="M286.8 39.5H304.2" stroke="#1a1a1a" stroke-width="1"/>
<text x="313.8" y="44.2" font-size="10.7" font-weight="bold" text-anchor="start">ETEC</text>
<path d="M295.6 51.7L298.7 57.9L292.5 57.9Z" fill="none" stroke="#1a1a1a" stroke-width="1" stroke-linejoin="miter"/>
<path d="M286.8 54.7H304.2" stroke="#1a1a1a" stroke-width="1"/>
<text x="313.8" y="58.6" font-size="10.7" font-weight="bold" text-anchor="start">LDBE</text>
<path d="M292.7 69.6L298.5 69.6L295.6 75.5Z" fill="#1a1a1a" stroke="#1a1a1a" stroke-width="0.8"/>
<path d="M286.8 72.5H304.2" stroke="#1a1a1a" stroke-width="1"/>
<text x="313.8" y="77.3" font-size="10.7" font-weight="bold" text-anchor="start">HDBE</text>
</svg>
</body></html>
